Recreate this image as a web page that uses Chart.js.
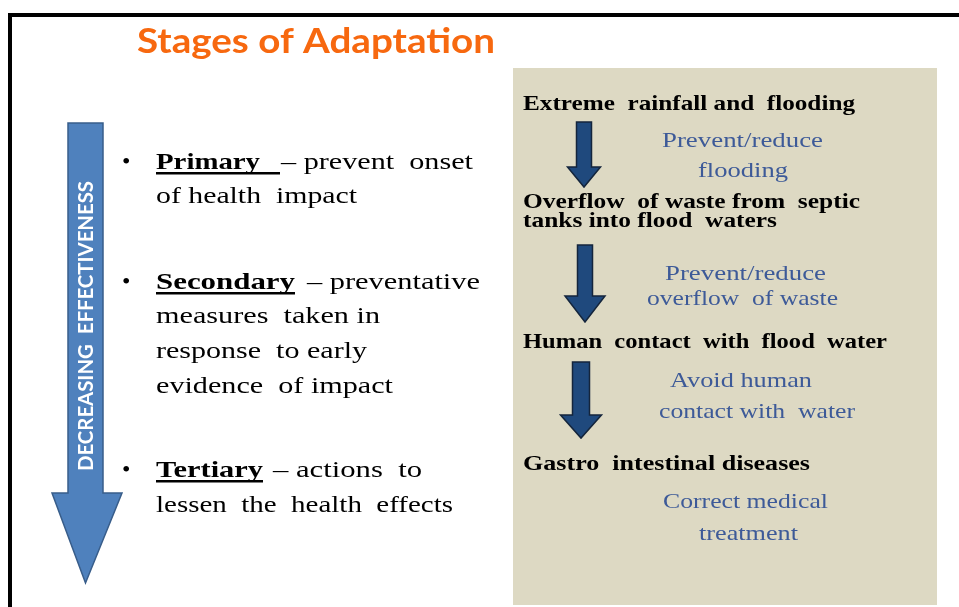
<!DOCTYPE html>
<html>
<head>
<meta charset="utf-8">
<script src="https://cdn.jsdelivr.net/npm/chart.js@4.4.1/dist/chart.umd.min.js"></script>
<style>
  html, body { margin: 0; padding: 0; background: #fff; overflow: hidden; }
  #wrap { width: 959px; height: 607px; }
</style>
</head>
<body>
<div id="wrap"><canvas id="diagram" width="959" height="607"></canvas></div>
<script>
// ── Content ────────────────────────────────────────────────
const title = "Stages of Adaptation";
const sideLabel = "DECREASING  EFFECTIVENESS";
const stageNames = ["Primary", "Secondary", "Tertiary"];
const stageLeads = ["– prevent  onset", "– preventative", "– actions  to"];
const stageRest = [
  ["of health  impact"],
  ["measures  taken in", "response  to early", "evidence  of impact"],
  ["lessen  the  health  effects"],
];
const chainSteps = [
  ["Extreme  rainfall and  flooding"],
  ["Overflow  of waste from  septic", "tanks into flood  waters"],
  ["Human  contact  with  flood  water"],
  ["Gastro  intestinal diseases"],
];
const interventions = [
  ["Prevent/reduce", "flooding"],
  ["Prevent/reduce", "overflow  of waste"],
  ["Avoid human", "contact with  water"],
  ["Correct medical", "treatment"],
];

// ── Layout (page units = pixels of the 959x607 scales) ─────
const layout = {
  title: { x: 137, y: 53, end: 495 },
  bigArrow: { left: 68, right: 103, top: 123, headY: 493, headL: 52, headR: 122, tip: 583 },
  side: { x: 93, from: 471, to: 181 },
  bulletX: 122,
  textX: 156,
  stageY: [[169, 203], [289, 323, 358, 393], [477, 512]],
  nameEnd: [260, 295, 263],
  underlineEnd: [280, 295, 263],
  leadX: [[281, 473], [307, 480], [273, 422]],
  restEnd: [[357], [380, 367, 393], [453]],
  box: { left: 513, right: 937, top: 68, bottom: 605 },
  stepX: 523,
  stepY: [[110], [208, 227], [348], [470]],
  stepEnd: [[855], [860, 777], [887], [810]],
  intervY: [[147, 177], [280, 305], [387, 418], [508, 540]],
  intervX: [
    [[662, 823], [698, 788]],
    [[665, 826], [647, 838]],
    [[670, 812], [659, 855]],
    [[663, 828], [699, 798]],
  ],
  arrows: [
    { x: 584, top: 122, headY: 167, tip: 187, shaftW: 15, headW: 33 },
    { x: 585, top: 245, headY: 296, tip: 322, shaftW: 15, headW: 40 },
    { x: 581, top: 362, headY: 415, tip: 438, shaftW: 17, headW: 41 },
  ],
};

const SERIF = '"Liberation Serif", "Times New Roman", serif';
const SANS = 'Lato, "Open Sans", sans-serif';

// text stretched horizontally so it spans [x0, x1]
function fitText(ctx, str, x0, x1, y, font, color) {
  ctx.save();
  ctx.font = font;
  ctx.fillStyle = color;
  ctx.textAlign = "left";
  ctx.textBaseline = "alphabetic";
  const w = ctx.measureText(str).width;
  ctx.translate(x0, y);
  ctx.scale((x1 - x0) / w, 1);
  ctx.fillText(str, 0, 0);
  ctx.restore();
}

function arrowPath(ctx, cx, top, headY, tip, shaftW, headW) {
  ctx.beginPath();
  ctx.moveTo(cx - shaftW / 2, top);
  ctx.lineTo(cx + shaftW / 2, top);
  ctx.lineTo(cx + shaftW / 2, headY);
  ctx.lineTo(cx + headW / 2, headY);
  ctx.lineTo(cx, tip);
  ctx.lineTo(cx - headW / 2, headY);
  ctx.lineTo(cx - shaftW / 2, headY);
  ctx.closePath();
}

const diagramPlugin = {
  id: "diagram",
  afterDraw(chart) {
    const ctx = chart.ctx;
    const sx = chart.scales.x, sy = chart.scales.y;
    const X = (v) => sx.getPixelForValue(v);
    const Y = (v) => sy.getPixelForValue(v);

    // frame
    ctx.save();
    ctx.strokeStyle = "#000";
    ctx.lineWidth = 4;
    ctx.beginPath();
    ctx.moveTo(X(10), Y(640));
    ctx.lineTo(X(10), Y(15));
    ctx.lineTo(X(990), Y(15));
    ctx.stroke();
    ctx.restore();

    // title
    const t = layout.title;
    fitText(ctx, title, X(t.x), X(t.end), Y(t.y), "bold 34px " + SANS, "#F7680F");

    // big arrow
    const b = layout.bigArrow;
    ctx.save();
    ctx.beginPath();
    ctx.moveTo(X(b.left), Y(b.top));
    ctx.lineTo(X(b.right), Y(b.top));
    ctx.lineTo(X(b.right), Y(b.headY));
    ctx.lineTo(X(b.headR), Y(b.headY));
    ctx.lineTo(X((b.left + b.right) / 2), Y(b.tip));
    ctx.lineTo(X(b.headL), Y(b.headY));
    ctx.lineTo(X(b.left), Y(b.headY));
    ctx.closePath();
    ctx.fillStyle = "#4F81BD";
    ctx.fill();
    ctx.strokeStyle = "#385D8A";
    ctx.lineWidth = 1.5;
    ctx.stroke();
    ctx.restore();

    // side label (rotated)
    const s = layout.side;
    ctx.save();
    ctx.translate(X(s.x), Y(s.from));
    ctx.rotate(-Math.PI / 2);
    ctx.font = "bold 21px " + SANS;
    ctx.fillStyle = "#fff";
    ctx.textBaseline = "alphabetic";
    const sw = ctx.measureText(sideLabel).width;
    ctx.scale((Y(s.from) - Y(s.to)) / sw, 1);
    ctx.fillText(sideLabel, 0, 0);
    ctx.restore();

    // stages list
    stageNames.forEach((name, i) => {
      const ys = layout.stageY[i];
      ctx.save();
      ctx.font = "24px " + SERIF;
      ctx.fillStyle = "#000";
      ctx.fillText("•", X(layout.bulletX), Y(ys[0]));
      ctx.restore();
      fitText(ctx, name, X(layout.textX), X(layout.nameEnd[i]), Y(ys[0]), "bold 24px " + SERIF, "#000");
      ctx.save();
      ctx.fillStyle = "#000";
      ctx.fillRect(X(layout.textX), Y(ys[0] + 3), X(layout.underlineEnd[i]) - X(layout.textX), 2.5);
      ctx.restore();
      fitText(ctx, stageLeads[i], X(layout.leadX[i][0]), X(layout.leadX[i][1]), Y(ys[0]), "24px " + SERIF, "#000");
      stageRest[i].forEach((line, j) => {
        fitText(ctx, line, X(layout.textX), X(layout.restEnd[i][j]), Y(ys[j + 1]), "24px " + SERIF, "#000");
      });
    });

    // pathway box
    const bx = layout.box;
    ctx.save();
    ctx.fillStyle = "#DDD9C3";
    ctx.fillRect(X(bx.left), Y(bx.top), X(bx.right) - X(bx.left), Y(bx.bottom) - Y(bx.top));
    ctx.restore();

    chainSteps.forEach((lines, i) => {
      lines.forEach((line, j) => {
        fitText(ctx, line, X(layout.stepX), X(layout.stepEnd[i][j]), Y(layout.stepY[i][j]), "bold 21px " + SERIF, "#000");
      });
    });

    interventions.forEach((lines, i) => {
      lines.forEach((line, j) => {
        const [x0, x1] = layout.intervX[i][j];
        fitText(ctx, line, X(x0), X(x1), Y(layout.intervY[i][j]), "21px " + SERIF, "#3D5A98");
      });
    });

    layout.arrows.forEach((a) => {
      ctx.save();
      arrowPath(ctx, X(a.x), Y(a.top), Y(a.headY), Y(a.tip), a.shaftW, a.headW);
      ctx.fillStyle = "#1F497D";
      ctx.fill();
      ctx.strokeStyle = "#14253C";
      ctx.lineWidth = 1.5;
      ctx.stroke();
      ctx.restore();
    });
  },
};

new Chart(document.getElementById("diagram"), {
  type: "scatter",
  data: { datasets: [{ data: [] }] },
  options: {
    responsive: false,
    animation: false,
    devicePixelRatio: 1,
    layout: { padding: 0 },
    plugins: { legend: { display: false }, tooltip: { enabled: false } },
    scales: {
      x: { type: "linear", min: 0, max: 959, display: false },
      y: { type: "linear", min: 0, max: 607, reverse: true, display: false },
    },
  },
  plugins: [diagramPlugin],
});
</script>
</body>
</html>
